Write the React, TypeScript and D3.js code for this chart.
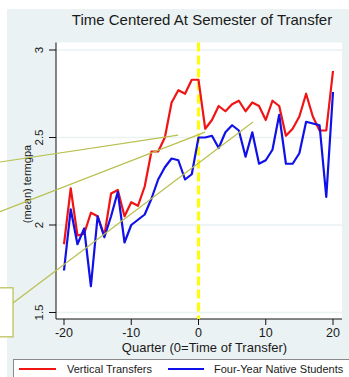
import React, { useEffect } from "react";
import * as d3 from "d3";

const quarters = d3.range(-20, 21);
const verticalTransfers = [
  1.89, 2.21, 1.94, 1.95, 2.07, 2.05, 1.94, 2.18, 2.2, 2.05, 2.13, 2.11, 2.22, 2.42, 2.42, 2.5, 2.7, 2.77, 2.75, 2.83,
  2.83, 2.55, 2.6, 2.68, 2.65, 2.69, 2.71, 2.65, 2.7, 2.68, 2.6, 2.71, 2.68, 2.51, 2.55, 2.62, 2.75, 2.62, 2.54, 2.54, 2.88,
];
const nativeStudents = [
  1.74, 2.09, 1.89, 1.98, 1.65, 2.05, 1.93, 2.05, 2.19, 1.9, 2.0, 2.03, 2.06, 2.15, 2.26, 2.33, 2.38, 2.37, 2.26, 2.29,
  2.5, 2.5, 2.51, 2.44, 2.53, 2.57, 2.54, 2.39, 2.53, 2.35, 2.37, 2.43, 2.63, 2.35, 2.35, 2.41, 2.59, 2.58, 2.57, 2.16, 2.76,
];
const xTicks = [-20, -10, 0, 10, 20];
const yTicks = [1.5, 2, 2.5, 3];
const yTickLabels = ["1.5", "2", "2.5", "3"];
const seriesNames = ["Vertical Transfers", "Four-Year Native Students"];
const titleText = "Time Centered At Semester of Transfer";
const xTitle = "Quarter (0=Time of Transfer)";
const yTitle = "(mean) termgpa";
// callout lines overlapping the chart (data units)
const callouts: [number, number, number, number][] = [
  [-29.52, 2.36, -3.05, 2.514],
  [-29.52, 2.076, 0.97, 2.531],
  [-27.58, 1.554, 8.1, 2.589],
];
const calloutBox = [-29.7, 1.641, -27.58, 1.361];

const W = 349;
const H = 377;

export default function App() {
  useEffect(() => {
    document.body.style.margin = "0";
  }, []);
  const x = d3.scaleLinear().domain([-20, 20]).range([64, 333]);
  const y = d3.scaleLinear().domain([1.5, 3]).range([312.5, 50]);
  const plot = { left: 56, right: 342, top: 42.5, bottom: 319 };
  const font = "Liberation Sans, Arial, sans-serif";
  const line = d3
    .line<number>()
    .x((_, i) => x(quarters[i]))
    .y((d) => y(d));
  const colors = ["#f01414", "#1010e8"];
  const series = [verticalTransfers, nativeStudents];
  const olive = "#b9bf4c";
  return (
    <svg width={W} height={H} style={{ position: "absolute", left: 0, top: 0, display: "block" }} fontFamily={font}>
      <rect x={0} y={0} width={W} height={H} fill="#ffffff" />
      <rect x={7} y={9} width={W - 7} height={H - 9} fill="#eaf2f3" />
      <rect x={plot.left} y={plot.top} width={plot.right - plot.left} height={plot.bottom - plot.top} fill="#ffffff" />
      {yTicks.map((t) => (
        <line key={t} x1={plot.left} x2={plot.right} y1={y(t)} y2={y(t)} stroke="#eaf2f3" strokeWidth={1.5} />
      ))}
      <text x={202} y={25} fontSize={15} textAnchor="middle" fill="#1a1a1a">
        {titleText}
      </text>
      {/* y axis */}
      <line x1={plot.left} x2={plot.left} y1={plot.top} y2={plot.bottom} stroke="#111" strokeWidth={1} />
      {yTicks.map((t, i) => (
        <g key={t}>
          <line x1={49} x2={plot.left} y1={y(t)} y2={y(t)} stroke="#111" strokeWidth={1} />
          <text
            transform={`translate(43,${y(t)}) rotate(-90)`}
            fontSize={11.5}
            textAnchor="middle"
            fill="#1a1a1a"
          >
            {yTickLabels[i]}
          </text>
        </g>
      ))}
      <text transform={`translate(31,${184}) rotate(-90)`} fontSize={11} textAnchor="middle" fill="#1a1a1a">
        {yTitle}
      </text>
      {/* x axis */}
      <line x1={plot.left} x2={plot.right} y1={plot.bottom} y2={plot.bottom} stroke="#111" strokeWidth={1} />
      {xTicks.map((t) => (
        <g key={t}>
          <line x1={x(t)} x2={x(t)} y1={plot.bottom} y2={plot.bottom + 6} stroke="#111" strokeWidth={1} />
          <text x={x(t)} y={336.5} fontSize={12.5} textAnchor="middle" fill="#1a1a1a">
            {t}
          </text>
        </g>
      ))}
      <text x={(x(-20) + x(20)) / 2 + 6} y={352} fontSize={13} textAnchor="middle" fill="#1a1a1a">
        {xTitle}
      </text>
      {/* transfer marker */}
      <line
        x1={x(0)}
        x2={x(0)}
        y1={plot.top}
        y2={plot.bottom}
        stroke="#ffff00"
        strokeWidth={3}
        strokeDasharray="9,4"
      />
      {series.map((s, i) => (
        <path key={i} d={line(s) || ""} fill="none" stroke={colors[i]} strokeWidth={2.2} strokeLinejoin="round" />
      ))}
      {/* callouts */}
      {callouts.map((c, i) => (
        <line key={i} x1={x(c[0])} y1={y(c[1])} x2={x(c[2])} y2={y(c[3])} stroke={olive} strokeWidth={1.2} />
      ))}
      <rect
        x={x(calloutBox[0])}
        y={y(calloutBox[1])}
        width={x(calloutBox[2]) - x(calloutBox[0])}
        height={y(calloutBox[3]) - y(calloutBox[1])}
        fill="#ffffff"
        stroke={olive}
        strokeWidth={1.2}
      />
      {/* legend */}
      <rect x={13.5} y={359.5} width={W} height={30} fill="#ffffff" stroke="#8a8a8a" strokeWidth={1} />
      <line x1={19} x2={56} y1={369} y2={369} stroke={colors[0]} strokeWidth={2} />
      <text x={67} y={373} fontSize={11} fill="#1a1a1a">
        {seriesNames[0]}
      </text>
      <line x1={168} x2={204} y1={369} y2={369} stroke={colors[1]} strokeWidth={2} />
      <text x={214} y={373} fontSize={11} fill="#1a1a1a">
        {seriesNames[1]}
      </text>
    </svg>
  );
}
